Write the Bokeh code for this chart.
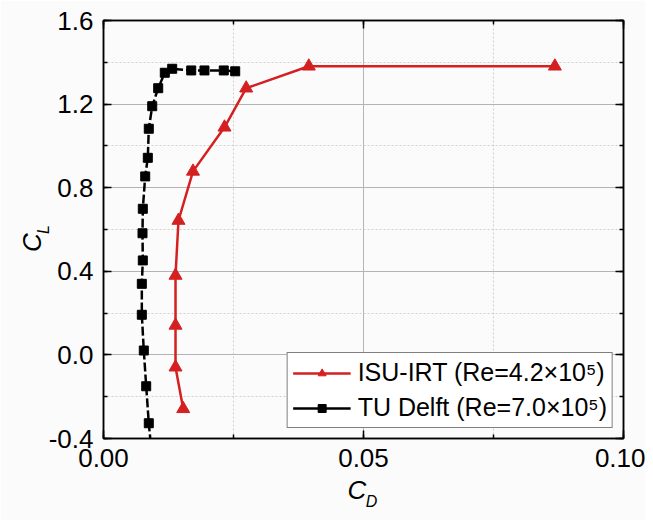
from bokeh.plotting import figure
from bokeh.models import (Range1d, LinearAxis, SingleIntervalTicker, FixedTicker,
                          PrintfTickFormatter, Legend, LegendItem)
from bokeh.embed import file_html
from bokeh.resources import INLINE

# ---- data ----
isu_cd = [0.01533, 0.01385, 0.01385, 0.01385, 0.01442, 0.01721, 0.02327, 0.02744, 0.03948, 0.0868]
isu_cl = [-0.258, -0.059, 0.141, 0.380, 0.643, 0.878, 1.089, 1.276, 1.381, 1.381]

tud_cd = [0.0093, 0.00871, 0.00821, 0.00775, 0.00737, 0.00737, 0.00756, 0.0075, 0.00756, 0.00802,
          0.00852, 0.00871, 0.00937, 0.01052, 0.01179, 0.01321, 0.01687, 0.01942, 0.02313, 0.02533]
tud_cl = [-0.48, -0.327, -0.150, 0.021, 0.192, 0.340, 0.452, 0.582, 0.699, 0.854,
          0.943, 1.082, 1.190, 1.276, 1.350, 1.369, 1.361, 1.361, 1.361, 1.357]

x_ticks = [0.00, 0.05, 0.10]
y_ticks = [-0.4, 0.0, 0.4, 0.8, 1.2, 1.6]

label_red = "ISU-IRT (Re=4.2×10⁵)"
label_black = "TU Delft (Re=7.0×10⁵)"

RED = "#d42020"
FONT = "Liberation Sans"
BG = "#fbfbfb"

W, H = 645, 520
p = figure(width=W, height=H, output_backend="svg", toolbar_location=None,
           x_range=Range1d(x_ticks[0], x_ticks[-1]), y_range=Range1d(y_ticks[0], y_ticks[-1]),
           background_fill_color=BG, border_fill_color=BG,
           min_border_left=103, min_border_right=W - 623, min_border_top=20,
           min_border_bottom=H - 438)
p.outline_line_color = "black"
p.outline_line_width = 1.5

xt = SingleIntervalTicker(interval=0.05, num_minor_ticks=2)
yt = SingleIntervalTicker(interval=0.4, num_minor_ticks=2)


def style_ticks(a):
    a.axis_line_width = 1.5
    a.major_tick_in = 8
    a.major_tick_out = 0
    a.minor_tick_in = 4
    a.minor_tick_out = 0
    a.major_tick_line_width = 1.5
    a.minor_tick_line_width = 1.5


for ax, tk in ((p.xaxis[0], xt), (p.yaxis[0], yt)):
    ax.ticker = tk
    style_ticks(ax)
    ax.major_label_text_font = FONT
    ax.major_label_text_font_size = "26px"
    ax.major_label_text_color = "black"
    ax.axis_label_text_font = FONT
    ax.axis_label_text_font_style = "italic"
    ax.axis_label_text_color = "black"
p.xaxis[0].formatter = PrintfTickFormatter(format="%.2f")
p.yaxis[0].formatter = PrintfTickFormatter(format="%.1f")
p.xaxis[0].major_label_standoff = 10
p.yaxis[0].major_label_standoff = 10

# x title: "C" on the main axis, subscript "D" on an extra bare axis
p.xaxis[0].axis_label = "C\u2002"
p.xaxis[0].axis_label_text_font_size = "26px"
p.xaxis[0].axis_label_standoff = 5
# y title: subscript "L" on the main axis, "C" on an extra bare axis further out
p.yaxis[0].axis_label = "L"
p.yaxis[0].axis_label_text_font_size = "16px"
p.yaxis[0].axis_label_standoff = -6


def bare_axis(label, size, standoff):
    a = LinearAxis(ticker=FixedTicker(ticks=[]))
    a.axis_line_color = None
    a.major_tick_line_color = None
    a.minor_tick_line_color = None
    a.major_label_text_font_size = "0px"
    a.major_label_standoff = 0
    a.major_tick_out = 0
    a.minor_tick_out = 0
    a.axis_label = label
    a.axis_label_text_font = FONT
    a.axis_label_text_font_style = "italic"
    a.axis_label_text_font_size = size
    a.axis_label_text_color = "black"
    a.axis_label_standoff = standoff
    return a


p.add_layout(bare_axis("\u2003D", "16px", -15), "below")
p.add_layout(bare_axis("C\u2003", "26px", -15), "left")

# mirrored axes (ticks only)
for loc, tk in (("right", SingleIntervalTicker(interval=0.4, num_minor_ticks=2)),
                ("above", SingleIntervalTicker(interval=0.05, num_minor_ticks=2))):
    a = LinearAxis(ticker=tk)
    a.major_label_text_font_size = "0px"
    a.major_label_text_color = None
    a.major_label_standoff = 0
    style_ticks(a)
    p.add_layout(a, loc)

for g, tk in ((p.xgrid[0], xt), (p.ygrid[0], yt)):
    g.ticker = tk
    g.grid_line_color = "#b4b4b4"
    g.grid_line_width = 1
    g.minor_grid_line_color = "#cfcfcf"
    g.minor_grid_line_dash = "2 2"
    g.minor_grid_line_width = 1

# curves
r_line = p.line(isu_cd, isu_cl, line_color=RED, line_width=2.5)
r_pts = p.scatter(isu_cd, isu_cl, marker="triangle", size=13, fill_color=RED, line_color=RED)

b_line = p.line(tud_cd, tud_cl, line_color="black", line_width=2.5, line_dash="9 3")
b_pts = p.scatter(tud_cd, tud_cl, marker="square", size=9, fill_color="black", line_color="black")
b_leg_line = p.line([-1, -1], [-5, -5], line_color="black", line_width=2.5)

legend = Legend(items=[LegendItem(label=label_red, renderers=[r_line, r_pts]),
                       LegendItem(label=label_black, renderers=[b_leg_line, b_pts])],
                location="bottom_right")
legend.label_text_font = FONT
legend.label_text_font_size = "25px"
legend.label_text_color = "black"
legend.glyph_width = 58
legend.glyph_height = 20
legend.label_height = 28
legend.label_standoff = 7
legend.spacing = 6
legend.padding = 5
legend.margin = 10
legend.border_line_color = "black"
legend.border_line_width = 1.2
legend.background_fill_color = "white"
legend.background_fill_alpha = 1.0
p.add_layout(legend, "center")

open("out.html", "w").write(file_html(p, INLINE))
